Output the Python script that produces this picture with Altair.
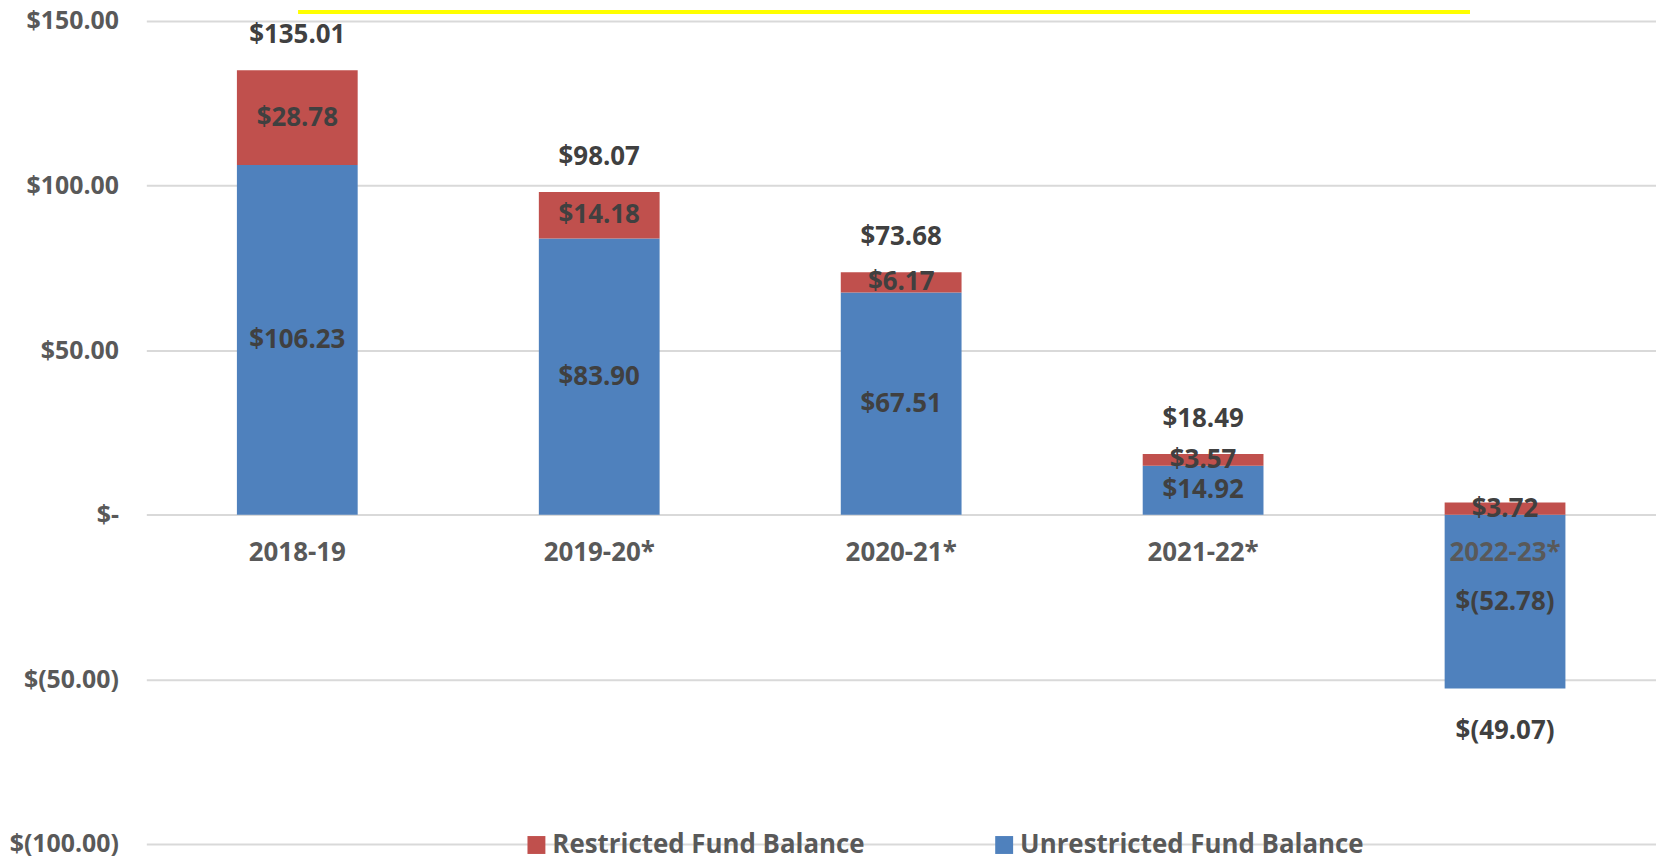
import altair as alt
import pandas as pd

years = ["2018-19", "2019-20*", "2020-21*", "2021-22*", "2022-23*"]
restricted = [28.78, 14.18, 6.17, 3.57, 3.72]
unrestricted = [106.23, 83.90, 67.51, 14.92, -52.78]
totals = [135.01, 98.07, 73.68, 18.49, -49.07]
series_names = ["Restricted Fund Balance", "Unrestricted Fund Balance"]
series_colors = ["#C0504D", "#4F81BD"]
y_ticks = [-100, -50, 0, 50, 100, 150]

FONT = "Open Sans"
NB = "\u00a0"

rows = []
for i, y in enumerate(years):
    rows.append({"year": y, "series": series_names[1], "value": unrestricted[i], "ord": 0})
    rows.append({"year": y, "series": series_names[0], "value": restricted[i], "ord": 1})
seg_df = pd.DataFrame(rows)
tot_df = pd.DataFrame({"year": years, "total": totals, "bottom": unrestricted})
cat_df = pd.DataFrame({"year": years})

money = "datum.{f} < 0 ? '$(' + format(-datum.{f}, '.2f') + ')' : '$' + format(datum.{f}, '.2f')"

xscale = alt.Scale(domain=years, paddingInner=0.6, paddingOuter=0.3)
yscale = alt.Scale(domain=[-100, 150], nice=False, zero=False)
yaxis = alt.Axis(
    values=y_ticks,
    title=None,
    domain=False,
    ticks=False,
    grid=True,
    gridColor="#d9d9d9",
    gridWidth=2,
    labelPadding=28,
    labelFont=FONT,
    labelFontSize=25,
    labelFontWeight="bold",
    labelColor="#595959",
    labelExpr=(
        "datum.value == 0 ? '$-" + NB * 3 + "' : (datum.value < 0 ? '$(' + format(-datum.value, '.2f') + ')' "
        ": '$' + format(datum.value, '.2f') + '" + NB + "')"
    ),
)


def X():
    return alt.X("year:N", sort=years, scale=xscale, axis=None)


def Y(field):
    return alt.Y(field, scale=yscale, axis=yaxis)


base_seg = (
    alt.Chart(seg_df)
    .transform_stack(
        stack="value",
        groupby=["year"],
        as_=["v0", "v1"],
        offset="zero",
        sort=[alt.SortField("ord", order="ascending")],
    )
    .transform_calculate(mid="(datum.v0 + datum.v1) / 2", lab=money.format(f="value"))
)

bars = base_seg.mark_bar().encode(
    x=X(),
    y=Y("v0:Q"),
    y2="v1:Q",
    color=alt.Color(
        "series:N",
        scale=alt.Scale(domain=series_names, range=series_colors),
        legend=alt.Legend(
            orient="none",
            legendX=379,
            legendY=815,
            direction="horizontal",
            title=None,
            symbolType="square",
            symbolSize=324,
            symbolStrokeWidth=0,
            symbolOpacity=1,
            labelFont=FONT,
            labelFontSize=26,
            labelFontWeight="bold",
            labelColor="#595959",
            labelOffset=3,
            labelLimit=0,
            columnPadding=127,
            padding=0,
        ),
    ),
)

txt = dict(font=FONT, fontSize=26, fontWeight="bold")

x_labels = alt.Chart(cat_df).mark_text(dy=38, color="#595959", **txt).encode(
    x=X(), y=alt.datum(0, scale=yscale), text="year:N"
)

seg_labels = base_seg.mark_text(color="#404040", **txt).encode(
    x=X(), y=Y("mid:Q"), text="lab:N"
)

tot_base = alt.Chart(tot_df).transform_calculate(lab=money.format(f="total"))
tot_pos = tot_base.transform_filter("datum.total >= 0").mark_text(dy=-35, color="#404040", **txt).encode(
    x=X(), y=Y("total:Q"), text="lab:N"
)
tot_neg = tot_base.transform_filter("datum.total < 0").mark_text(dy=43, color="#404040", **txt).encode(
    x=X(), y=Y("bottom:Q"), text="lab:N"
)

highlight = alt.Chart(cat_df).mark_rule(color="#FFFF00", strokeWidth=4).encode(
    x=alt.value(153), x2=alt.value(1330), y=alt.value(-9)
)

chart = (
    alt.layer(bars, x_labels, seg_labels, tot_pos, tot_neg, highlight)
    .properties(
        width=1517,
        height=827,
        padding={"left": 139, "top": 11, "right": 0, "bottom": 13},
        autosize=alt.AutoSizeParams(type="none"),
        background="white",
    )
    .configure_view(stroke=None)
)

chart.save("out.html", embed_options={"renderer": "svg", "actions": False})
